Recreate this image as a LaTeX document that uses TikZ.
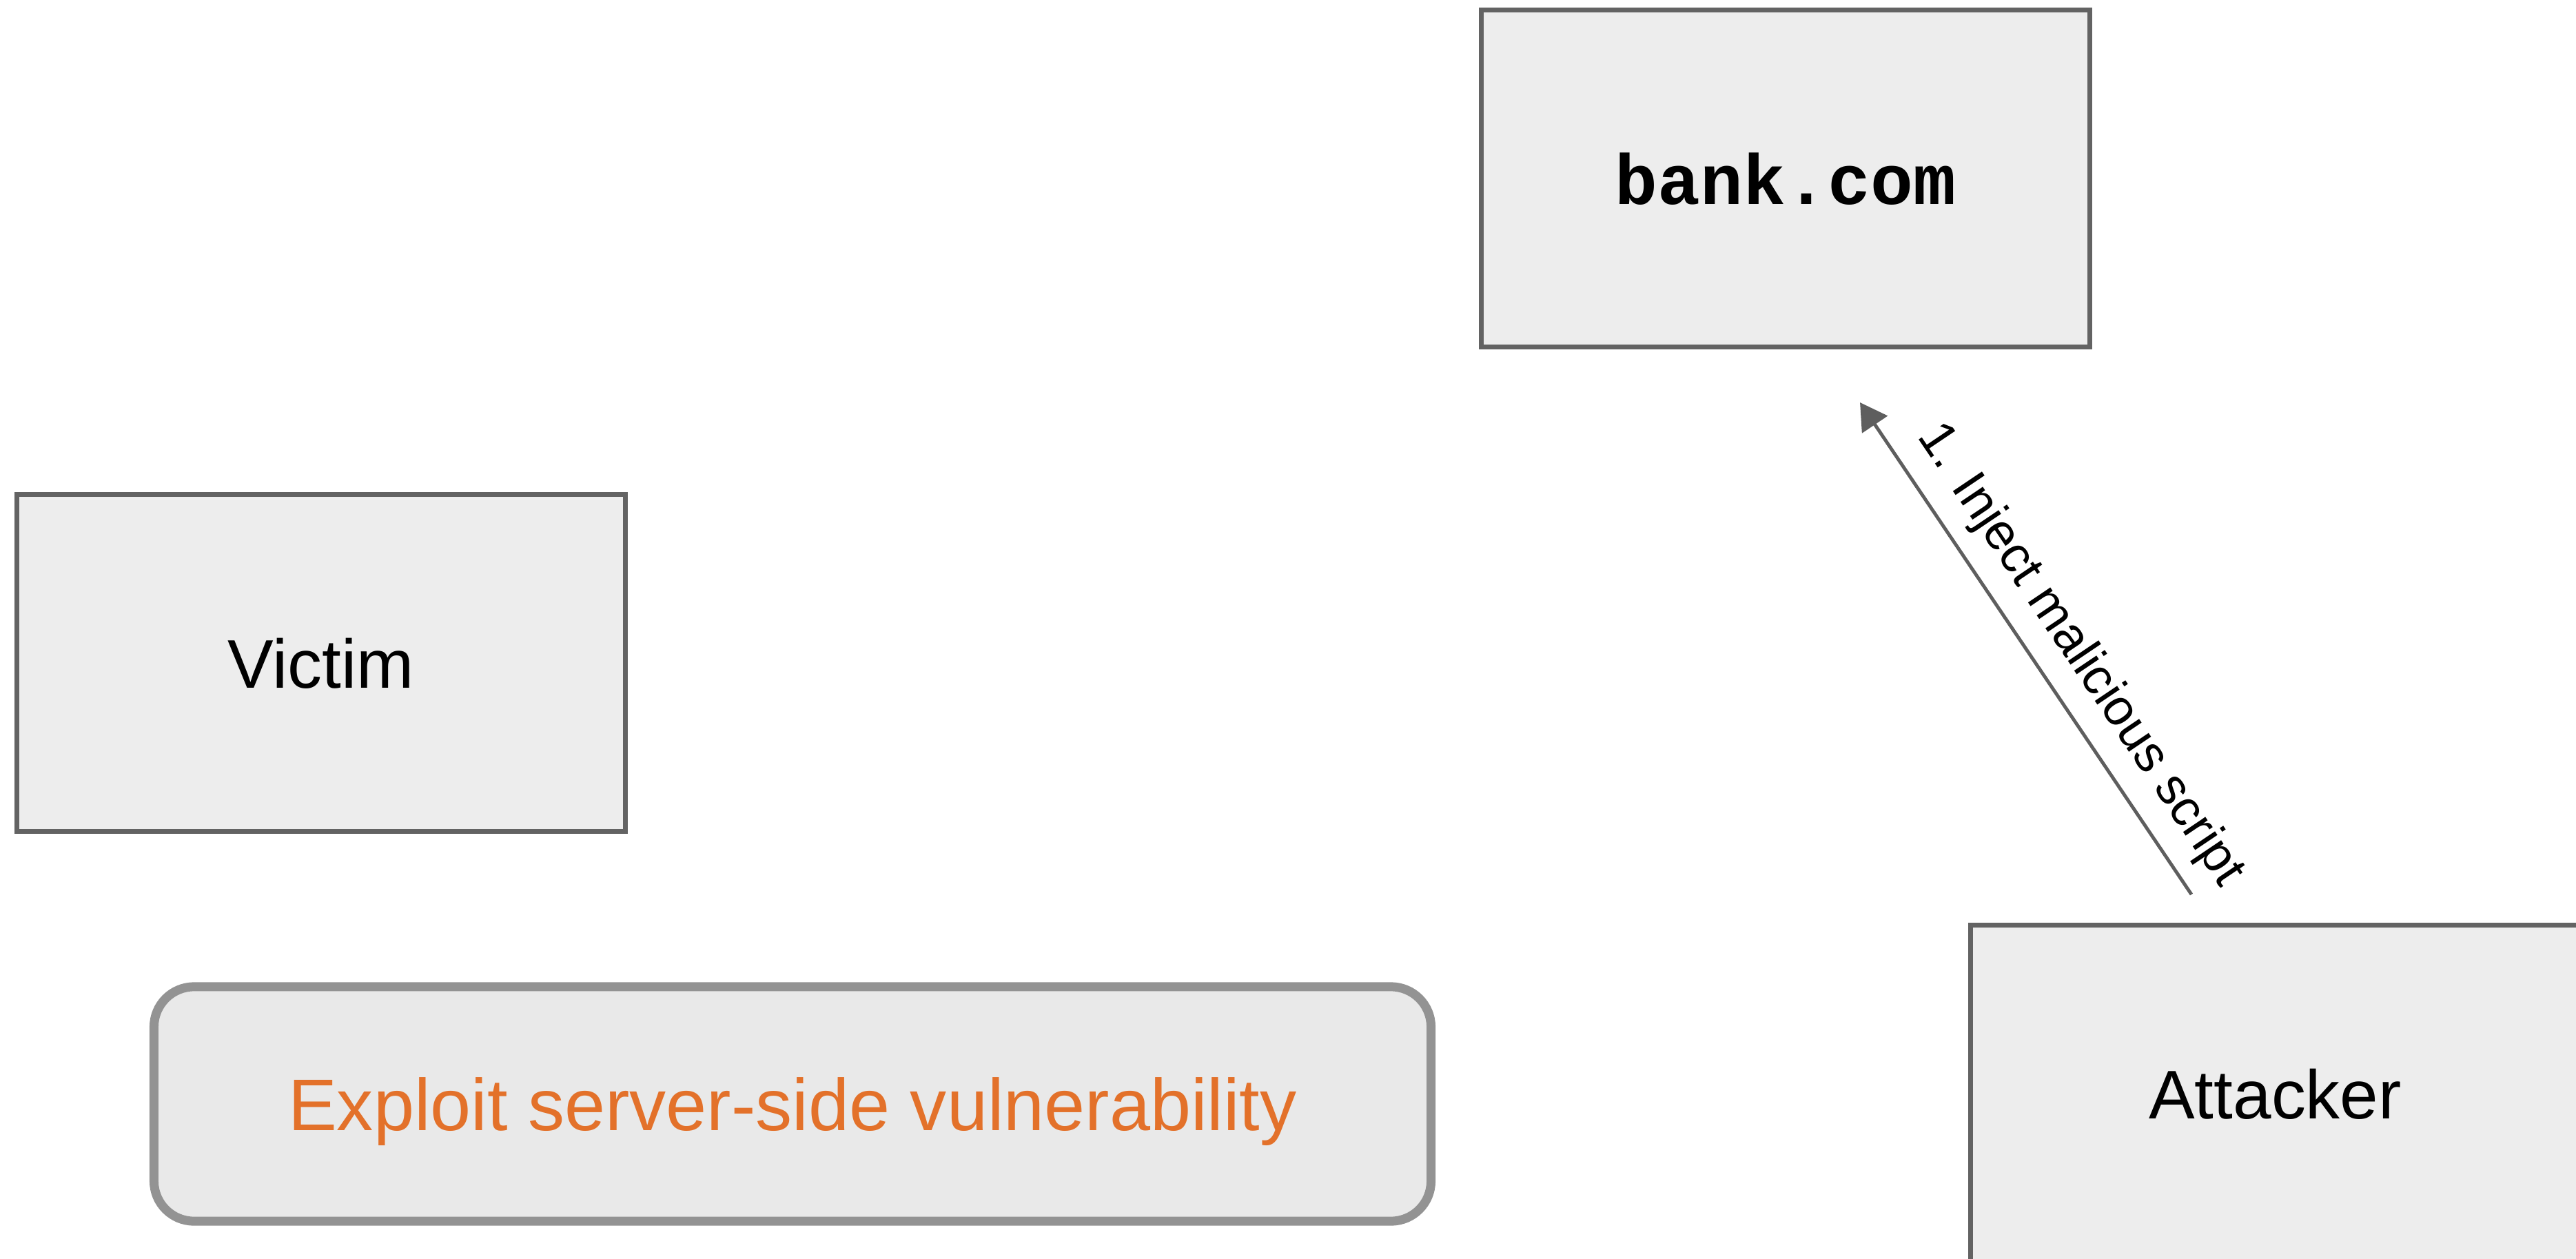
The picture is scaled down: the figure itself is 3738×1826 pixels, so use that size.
\documentclass[tikz,border=0pt]{standalone}
\usepackage{fontspec}
\setmainfont{Liberation Sans}
\setmonofont{Liberation Mono}
\usetikzlibrary{arrows.meta}

\definecolor{boxfill}{HTML}{EDEDED}
\definecolor{boxline}{HTML}{636363}
\definecolor{notefill}{HTML}{E9E9E9}
\definecolor{noteline}{HTML}{939393}
\definecolor{noteText}{HTML}{E3712A}
\definecolor{arrowline}{HTML}{5E5E5E}

\tikzset{
  actor/.style={draw=boxline, fill=boxfill, line width=0.07cm,
    minimum width=8.83cm, minimum height=4.89cm, inner sep=0pt,
    text depth=0pt, font=\fontsize{28.4pt}{34pt}\selectfont},
  server/.style={actor, font=\ttfamily\bfseries\fontsize{29.3pt}{35pt}\selectfont},
  note/.style={draw=noteline, fill=notefill, line width=0.13cm,
    rounded corners=0.58cm, minimum width=18.52cm, minimum height=3.4cm,
    inner sep=0pt, text depth=0pt, text=noteText,
    font=\fontsize{30.2pt}{36pt}\selectfont},
  flow/.style={draw=arrowline, line width=1.4pt,
    -{Triangle[length=11pt,width=12.5pt]}},
  flowlabel/.style={sloped, inner sep=0pt, text depth=0pt,
    font=\fontsize{21pt}{25pt}\selectfont}
}

\begin{document}
\begin{tikzpicture}[x=0.01cm, y=-0.01cm]
  \useasboundingbox (0,0) rectangle (3738,1826);
  \clip (0,0) rectangle (3738,1826);

  % actors
  \node[server] (bank) at (2591,259) {bank.com};
  \node[actor] (victim) at (466,962) {Victim};
  \node[actor] (attacker) at (3301.5,1587.5) {Attacker};

  % highlighted step
  \node[note] (exploit) at (1150,1602) {Exploit server-side vulnerability};

  % injection arrow from the attacker towards the server
  \coordinate (injFrom) at (3180,1298);
  \coordinate (injTo) at (2699,584);
  \draw[flow] (injFrom) -- (injTo)
    node[flowlabel, pos=0.44, above=0.38cm] (injLabel) {1. Inject malicious script};
\end{tikzpicture}
\end{document}
